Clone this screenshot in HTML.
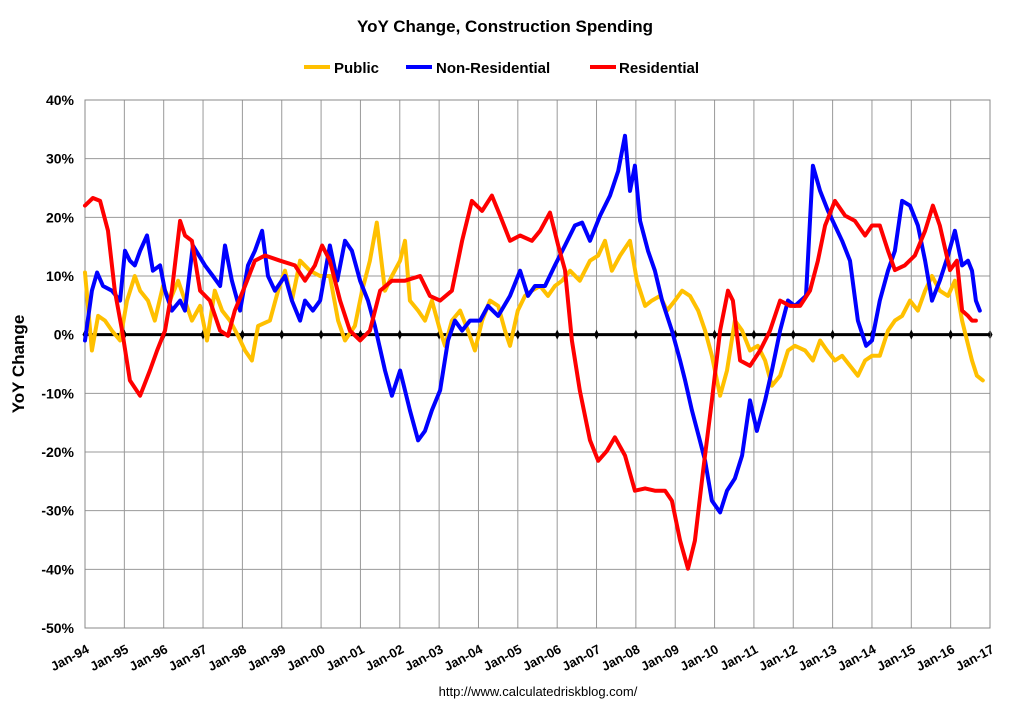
<!DOCTYPE html>
<html><head><meta charset="utf-8"><style>
body{margin:0;background:#fff;}
svg{display:block;font-family:"Liberation Sans",Arial,sans-serif;}
</style></head><body>
<svg id="chart" width="1010" height="704" viewBox="0 0 1010 704">
<text x="505" y="32" text-anchor="middle" font-size="17" font-weight="bold">YoY Change,  Construction Spending</text>
<g>
 <g><line x1="304" y1="67" x2="330" y2="67" stroke="#FFC000" stroke-width="4"/><text x="334" y="73" font-size="15" font-weight="bold">Public</text></g>
 <g><line x1="406" y1="67" x2="432" y2="67" stroke="#0000FF" stroke-width="4"/><text x="436" y="73" font-size="15" font-weight="bold">Non-Residential</text></g>
 <g><line x1="590" y1="67" x2="616" y2="67" stroke="#FF0000" stroke-width="4"/><text x="619" y="73" font-size="15" font-weight="bold">Residential</text></g>
</g>
<g id="grid"></g>
<g id="axes"></g>
<g id="series"></g>
<text x="0" y="0" transform="translate(24,364) rotate(-90)" text-anchor="middle" font-size="17" font-weight="bold">YoY Change</text>
<text x="538" y="696" text-anchor="middle" font-size="13">http://www.calculatedriskblog.com/</text>
</svg>
<script>
const yTicks=[40,30,20,10,0,-10,-20,-30,-40,-50];
const xLabels=["Jan-94","Jan-95","Jan-96","Jan-97","Jan-98","Jan-99","Jan-00","Jan-01","Jan-02","Jan-03","Jan-04","Jan-05","Jan-06","Jan-07","Jan-08","Jan-09","Jan-10","Jan-11","Jan-12","Jan-13","Jan-14","Jan-15","Jan-16","Jan-17"];
const resMonths=[0,2.4,4.6,7,9.1,11.3,13.7,16.8,19.8,22,24.4,26.5,29,30.5,32.6,35.1,38.1,41.2,43.6,45.7,48.8,51.8,54.9,59.5,64,67.1,70.1,72.3,74.7,77.8,80.8,83.9,86.9,90,93.6,97.6,102.2,105.2,108.3,111.9,115,118,121.1,124.1,126.6,129.6,132.7,136.3,138.8,141.8,144.3,146.4,148.5,150.9,154,156.5,159.2,161.6,164.7,167.7,170.8,173.8,176.9,179,181.5,183.9,186,188.5,191.2,193.7,196.1,197.6,199.8,202.8,205.9,208.9,212,215,218.1,221.1,223.5,225.7,228.7,231.8,234.8,237.9,240,242.4,244.9,247,250,253.1,256.2,258.6,260.7,263.8,265.9,267.5,269.3,270.5,271.7];
const resValues=[22,23.3,22.8,17.7,7.5,0.7,-7.8,-10.4,-6.1,-2.7,0.7,7.5,19.4,16.9,16,7.5,5.8,0.7,-0.2,4.1,8.3,12.6,13.5,12.6,11.8,9.2,11.8,15.2,12.6,5.8,0.7,-1,0.7,7.5,9.2,9.2,10,6.6,5.8,7.5,16,22.8,21.1,23.7,20.3,16,16.9,16,17.7,20.8,15.2,11,-1,-9.5,-18,-21.5,-19.8,-17.5,-20.6,-26.6,-26.2,-26.6,-26.6,-28.3,-35.1,-39.9,-35.1,-23.2,-11.2,0.7,7.5,5.8,-4.4,-5.3,-2.7,0.7,5.8,4.9,4.9,7.5,12.6,18.6,22.8,20.3,19.4,16.9,18.6,18.6,14.3,11,11.8,13.5,17.7,22,18.6,11,12.6,4.1,3.2,2.4,2.4];
const nonResMonths=[0,2.1,3.7,5.5,8.2,10.7,12.2,13.7,15.2,16.8,18.9,20.7,22.9,24.4,26.5,29,30.5,32.9,36.6,39,41.2,42.7,44.8,47.3,49.7,51.8,54,55.8,57.9,61,63.1,65.6,67.1,69.5,71.7,74.7,76.9,79.3,81.4,83.9,86.3,88.4,91.5,93.6,96.1,99.1,101.6,103.7,105.8,108.3,110.7,112.8,115,117.4,120.5,122.9,126,129.6,132.7,135.1,137.2,140.3,143.3,146.4,149.4,151.6,154,157.1,160.1,162.6,164.7,166.2,167.7,169.3,171.7,173.8,176,179,181.5,183,185.1,187.5,189.1,191.2,193.7,195.8,198.2,200.4,202.8,204.9,207.4,209.5,212,214.4,216.5,219.9,222,224.2,226.6,228.7,230.9,233.3,235.7,238.2,240,242.4,244.9,247,249.2,251.6,254,256.2,258.3,260.7,263.2,265.3,267.5,269.3,270.5,271.7,272.9];
const nonResValues=[-1,7.5,10.6,8.3,7.5,5.8,14.3,12.6,11.8,14.3,16.9,10.9,11.8,7.5,4.1,5.8,4.1,15.2,11.8,10,8.3,15.2,9.2,4.1,11.8,14.3,17.7,10,7.5,10,5.8,2.4,5.8,4.1,5.8,15.2,9.2,16,14.3,9.2,5.8,1.5,-6.1,-10.4,-6.1,-12.9,-18,-16.4,-12.9,-9.5,-1,2.4,0.7,2.4,2.4,4.9,3.2,6.6,10.9,6.6,8.3,8.3,11.8,15.2,18.6,19.1,16,20.3,23.7,27.9,33.9,24.5,28.8,19.4,14.3,10.9,5.8,0.7,-4.4,-7.8,-12.9,-18,-21.5,-28.3,-30.3,-26.6,-24.5,-20.6,-11.2,-16.4,-11.2,-6.1,0.7,5.8,4.9,6.6,28.8,24.5,21.1,18.6,16,12.6,2.4,-1.9,-1,5.8,10.9,14.3,22.8,22,18.6,12.6,5.8,9.2,13.5,17.7,11.8,12.6,10.9,5.8,4.1];
const pubMonths=[0,2.1,4,6.1,8.2,10.7,12.8,15.2,16.8,19.2,21.3,23.8,25.9,28.4,30.5,32.6,35.1,37.2,39.6,41.8,44.2,46.7,48.8,50.9,52.8,56.4,58.9,61,63.1,65.6,68.6,71.7,74.7,77.2,79.3,82.3,84.5,86.9,89,91.5,93.6,96.1,97.6,99.1,101.6,103.7,105.8,108.3,109.8,111.9,114.4,116.8,118.9,121.1,123.5,126,128.1,129.6,132,134.2,136.3,138.8,141.2,143.3,145.5,147.9,150.9,154,156.5,158.6,160.7,163.2,166.2,168.3,170.8,172.9,175.4,177.5,179.9,182.1,184.5,187,189.1,191.2,193.7,195.8,198.2,200.4,202.8,205.2,207.4,209.5,212,214.4,216.5,219.6,222,224.2,226.3,228.7,230.9,233.3,235.7,237.9,240,242.4,244.9,247,249.2,251.6,254,256.2,258.3,260.7,263.2,265.3,267.5,269,270.5,272,273.8];
const pubValues=[10.6,-2.7,3.2,2.4,0.7,-1,5.8,10,7.5,5.8,2.4,8.3,5.8,9.2,5.8,2.4,4.9,-1,7.5,4.1,2.4,-0.2,-2.7,-4.4,1.5,2.4,7.5,10.9,5.8,12.6,10.9,10,10,2.4,-1,1.5,7.5,12.6,19.1,7.5,10,12.6,16,5.8,4.1,2.4,5.8,0.7,-1.9,2.4,4.1,0.7,-2.7,2.4,5.8,4.9,0.7,-1.9,4.1,6.6,7.5,8.3,6.6,8.3,9.2,10.9,9.2,12.6,13.5,16,10.9,13.5,16,9.2,4.9,5.8,6.6,4.1,5.8,7.5,6.6,4.1,0.7,-3.6,-10.4,-6.1,2.4,0.7,-2.7,-1.9,-4.4,-8.7,-7,-2.7,-1.9,-2.7,-4.4,-1,-2.7,-4.4,-3.6,-5.3,-7,-4.4,-3.6,-3.6,0.7,2.4,3.2,5.8,4.1,7.5,10,7.5,6.6,9.2,2.4,-1,-4.4,-7,-7.8];

const NS="http://www.w3.org/2000/svg";
const L=85,R=990,T=100,B=628;
const xScale=m=>L+(R-L)*m/276;
const yScale=v=>T+(40-v)/90*(B-T);
function mk(tag,attrs,parent){const e=document.createElementNS(NS,tag);for(const k in attrs)e.setAttribute(k,attrs[k]);parent.appendChild(e);return e;}
const grid=document.getElementById('grid'),axes=document.getElementById('axes'),series=document.getElementById('series');
yTicks.forEach(v=>{
 const gl=mk('line',{x1:L,x2:R,y1:yScale(v),y2:yScale(v),stroke:'#999','stroke-width':1},grid);
 
 
 const t=mk('text',{x:L-11,y:yScale(v)+5,'text-anchor':'end','font-size':14,'font-weight':'bold'},axes);
 t.textContent=v+'%';
 
 
});
xLabels.forEach((lab,i)=>{
 const x=xScale(i*12);
 const gl=mk('line',{x1:x,x2:x,y1:T,y2:B,stroke:'#999','stroke-width':1},grid);
 
 
 const tk=mk('path',{d:`M${x-2.5},${yScale(0)} L${x},${yScale(0)-5} L${x+2.5},${yScale(0)} L${x},${yScale(0)+5}Z`,fill:'#000'},axes);
 
 
 const t=mk('text',{x:x+5,y:B+24,'text-anchor':'end','font-size':13,'font-weight':'bold',transform:`rotate(-28 ${x+5} ${B+24})`},axes);
 t.textContent=lab;
 
 
});
const box=mk('rect',{x:L,y:T,width:R-L,height:B-T,fill:'none',stroke:'#888','stroke-width':1},axes);


const zl=mk('line',{x1:L,x2:R,y1:yScale(0),y2:yScale(0),stroke:'#000','stroke-width':3},axes);


function drawLine(ms,vs,color,name){
 const d=ms.map((m,i)=>(i?'L':'M')+xScale(m).toFixed(1)+','+yScale(vs[i]).toFixed(1)).join(' ');
 const p=mk('path',{d:d,fill:'none',stroke:color,'stroke-width':4,'stroke-linejoin':'round','stroke-linecap':'round'},series);
 
 
}
drawLine(pubMonths,pubValues,'#FFC000','public-line');
drawLine(nonResMonths,nonResValues,'#0000FF','non-residential-line');
drawLine(resMonths,resValues,'#FF0000','residential-line');
</script>
</body></html>
